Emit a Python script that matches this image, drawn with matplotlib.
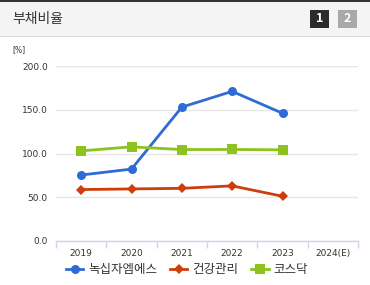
import matplotlib
matplotlib.use("Agg")
import matplotlib.pyplot as plt
from matplotlib.patches import Rectangle
from matplotlib.lines import Line2D

plt.rcParams['font.family'] = ['Noto Sans CJK KR', 'DejaVu Sans']

years = ['2019', '2020', '2021', '2022', '2023', '2024(E)']
series_names = ['녹십자엠에스', '건강관리', '코스닥']
gc_ms = [75.4, 82.2, 153.0, 171.0, 146.0]
health = [58.8, 59.5, 60.2, 63.0, 51.1]
kosdaq = [103.0, 107.6, 104.5, 104.6, 104.2]
yticks = [0, 50, 100, 150, 200]

colors = ['#2f6bd6', '#cf3d0b', '#8dc21f']
markers = ['o', 'D', 's']
msizes = [6.5, 5, 6.5]

W, H = 370, 285
fig = plt.figure(figsize=(W / 100, H / 100), dpi=100)
fig.patch.set_facecolor('white')

def fx(px):
    return px / W

def fy(py):
    return 1 - py / H

# header
fig.patches.append(Rectangle((0, fy(36)), 1, fy(2) - fy(36), transform=fig.transFigure,
                             facecolor='#f4f4f4', edgecolor='none', zorder=0))
fig.patches.append(Rectangle((0, fy(2)), 1, 1 - fy(2), transform=fig.transFigure,
                             facecolor='#333333', edgecolor='none', zorder=1))
fig.patches.append(Rectangle((0, fy(37)), 1, fy(36) - fy(37), transform=fig.transFigure,
                             facecolor='#dcdcdc', edgecolor='none', zorder=1))
fig.text(fx(12), fy(19), '부채비율', fontsize=10, color='#333333', va='center', ha='left')
# buttons
fig.patches.append(Rectangle((fx(310), fy(28)), fx(19), fy(10) - fy(28), transform=fig.transFigure,
                             facecolor='#2b2b2b', edgecolor='none', zorder=1))
fig.patches.append(Rectangle((fx(338), fy(28)), fx(19), fy(10) - fy(28), transform=fig.transFigure,
                             facecolor='#a9a9a9', edgecolor='none', zorder=1))
fig.text(fx(319.5), fy(19), '1', fontsize=9, fontweight='bold', color='white', ha='center', va='center')
fig.text(fx(347.5), fy(19), '2', fontsize=9, fontweight='bold', color='white', ha='center', va='center')

fig.text(fx(12), fy(50), '[%]', fontsize=5.5, color='#333333', ha='left', va='center',
         family=['DejaVu Sans'])

ax = fig.add_axes([fx(56), fy(241), fx(358) - fx(56), fy(66) - fy(241)])
ax.set_xlim(-0.5, len(years) - 0.5)
ax.set_ylim(0, 200)

x = list(range(len(gc_ms)))
for vals, c, m, ms in zip([gc_ms, health, kosdaq], colors, markers, msizes):
    ax.plot(x, vals, color=c, lw=2, marker=m, markersize=ms, markeredgewidth=0, zorder=3,
            clip_on=False)

for s in ['top', 'right', 'left']:
    ax.spines[s].set_visible(False)
ax.spines['bottom'].set_color('#ccd6eb')
ax.spines['bottom'].set_linewidth(1)

ax.set_yticks(yticks)
ax.set_yticklabels([f'{v:.1f}' for v in yticks], fontsize=6.5, color='#333333',
                   family=['DejaVu Sans'])
ax.tick_params(axis='y', length=0, pad=6)
ax.yaxis.grid(True, color='#e6e6e6', lw=1)
ax.set_axisbelow(True)

ax.set_xticks(range(len(years)))
ax.set_xticklabels(years, fontsize=6.5, color='#333333', family=['DejaVu Sans'])
ax.tick_params(axis='x', which='major', length=0, pad=6)
ax.set_xticks([i - 0.5 for i in range(len(years) + 1)], minor=True)
ax.tick_params(axis='x', which='minor', length=5, color='#ccd6eb', width=1, direction='out')

handles = [Line2D([0], [0], color=c, lw=2, marker=m, markersize=ms, markeredgewidth=0)
           for c, m, ms in zip(colors, markers, msizes)]
fig.legend(handles, series_names, loc='center', bbox_to_anchor=(fx(187), fy(270)),
           ncol=3, frameon=False, fontsize=9, handlelength=1.4, handletextpad=0.4,
           columnspacing=1.0, labelcolor='#333333')

fig.savefig('out.png', dpi=100)
